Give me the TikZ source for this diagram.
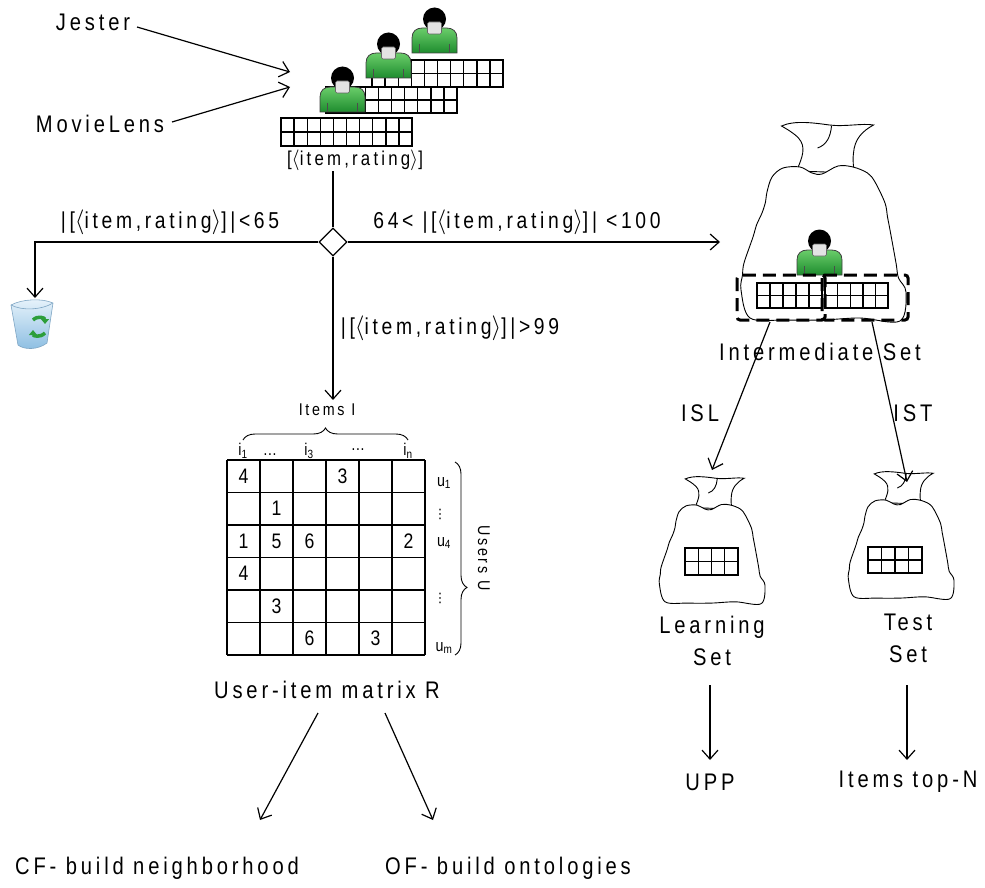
\documentclass[tikz,border=0pt]{standalone}
\usepackage{fontspec}
\setmainfont{Liberation Sans}[FakeStretch=0.84,LetterSpace=16]
\newfontfamily\dotsfont{DejaVu Sans}
\usetikzlibrary{arrows.meta,shapes.geometric,decorations.pathreplacing}

\definecolor{userlight}{HTML}{6ACD6A}
\definecolor{userdark}{HTML}{1E8C2E}
\definecolor{binlight}{HTML}{E8F3FB}
\definecolor{binblue}{HTML}{8CBEE2}
\definecolor{binedge}{HTML}{7FA6C4}
\definecolor{recyclegreen}{HTML}{2C9E3A}

\tikzset{
  lbl/.style={font=\fontsize{24}{32}\selectfont, inner sep=0pt, align=center},
  cond/.style={font=\fontsize{23}{28}\selectfont, inner sep=0pt},
  pairlbl/.style={font=\fontsize{20}{24}\selectfont, inner sep=0pt},
  tiny/.style={font=\fontsize{17}{20}\selectfont, inner sep=0pt},
  vdotlbl/.style={font=\dotsfont\fontsize{13}{14}\selectfont, inner sep=0pt},
  cellnum/.style={font=\fontsize{21}{24}\selectfont, inner sep=0pt},
  line/.style={line width=1.2pt},
  conn/.style={line width=1.2pt, -{Straight Barb[length=9pt,width=16pt,line width=1.2pt]}},
  gridline/.style={line width=1.4pt},
  matline/.style={line width=1.2pt},
  bagline/.style={line width=0.9pt},
  dashbox/.style={line width=3pt, dash pattern=on 13pt off 7pt, rounded corners=3pt},
  bracedeco/.style={line width=0.9pt, decorate},
  % person standing in front of a rating row; origin at the bottom centre
  user/.pic={
    \shade[top color=userlight, bottom color=userdark, draw=black!75, line width=0.8pt]
      (-22.5,0) -- (-22.5,-15) .. controls (-22.5,-22) and (-18,-25) .. (-12,-25)
      -- (12,-25) .. controls (18,-25) and (22.5,-22) .. (22.5,-15) -- (22.5,0) -- cycle;
    \draw[black!70, line width=0.8pt] (-15,-9) -- (-15,0) (15,-9) -- (15,0);
    \fill[black] (0,-34) circle (11.5);
    \filldraw[fill=gray!22, draw=black!60, line width=0.6pt, rounded corners=1.5pt]
      (-7,-31) rectangle (7,-19);
  },
  % tied sack; origin at the bottom centre
  bag/.pic={
    \filldraw[bagline, fill=white] (-26,-152) .. controls (-20,-166) and (-16,-176) .. (-24,-185)
      .. controls (-30,-191) and (-36,-194) .. (-41,-197)
      .. controls (-28,-203) and (-8,-200) .. (7,-198)
      .. controls (22,-196) and (40,-200) .. (51,-198)
      .. controls (40,-192) and (32,-184) .. (31,-170)
      .. controls (30,-162) and (31,-156) .. (32,-150) -- cycle;
    \filldraw[bagline, fill=white] plot[smooth cycle, tension=0.55] coordinates {
      (-72.5,-5) (-81.5,-33) (-80,-48) (-78.5,-60) (-69.5,-86) (-66,-98) (-60.5,-110)
      (-57,-121) (-55.5,-131) (-50.5,-146) (-39.5,-155) (-22.5,-156) (-10.5,-150)
      (-0.5,-149) (15.5,-157) (30.5,-156) (45,-150) (52.5,-141) (62.5,-120) (65,-106)
      (67.5,-93) (73.5,-60) (76,-45) (83.5,-31) (77.5,-2) (37.5,-5) (0,-3) (-37.5,-3)};
    \draw[bagline] (9,-197) .. controls (8,-186) and (4,-178) .. (-5,-175);
  }
}

% two-row rating grid: left, top, columns, cell width, cell height
\newcommand{\ratinggrid}[5]{%
  \filldraw[gridline, fill=white] (#1,#2) rectangle ({#1+#3*#4},{#2+2*#5});
  \draw[gridline] (#1,{#2+#5}) -- ({#1+#3*#4},{#2+#5});
  \pgfmathtruncatemacro{\innercols}{#3-1}
  \foreach \k in {1,...,\innercols} \draw[gridline] ({#1+\k*#4},#2) -- ({#1+\k*#4},{#2+2*#5});
}

\begin{document}
\begin{tikzpicture}[x=1pt,y=-1pt]
\useasboundingbox (0,0) rectangle (985,888);

% ---------- data sources ----------
\node[lbl] (jester) at (93,22) {Jester};
\node[lbl] (movielens) at (100,124) {MovieLens};
\coordinate (jout) at (137,27);
\coordinate (mout) at (172,122);
\coordinate (stackin1) at (290,72);
\coordinate (stackin2) at (290,87);
\draw[conn] (jout) -- (stackin1);
\draw[conn] (mout) -- (stackin2);

% ---------- stacked user profiles ----------
\ratinggrid{372}{60}{10}{13.1}{13.5}
\pic at (388.5,78) {user};
\pic at (434.5,53) {user};
\ratinggrid{326}{87}{10}{13.1}{13}
\pic at (342.5,112) {user};
\ratinggrid{281}{118}{10}{13.1}{14}
\node[pairlbl] (pairs) at (355,160) {[$\langle$item,rating$\rangle$]};

% ---------- split on profile size ----------
\node[diamond, draw, line width=1.2pt, fill=white, minimum width=28pt, minimum height=28pt, inner sep=0pt] (split) at (333,242) {};
\coordinate (stemtop) at (333,171);
\coordinate (binin) at (35,298);
\coordinate (bagin) at (720,242);
\coordinate (matin) at (333,400);
\draw[line] (stemtop) -- (split.north);
\draw[conn] (split.west) -| (binin);
\draw[conn] (split.east) -- (bagin);
\draw[conn] (split.south) -- (matin);

\node[cond] (small) at (170,222) {|[$\langle$item,rating$\rangle$]|<65};
\node[cond] (medium) at (517,222) {64< |[$\langle$item,rating$\rangle$]| <100};
\node[cond] (large) at (450,328) {|[$\langle$item,rating$\rangle$]|>99};

% ---------- recycle bin ----------
\shade[top color=binlight, bottom color=binblue, draw=binedge, line width=0.6pt]
  (11,305) .. controls (22,299) and (42,298) .. (53,303) -- (47,343)
  .. controls (38,350) and (24,350) .. (18,345) -- cycle;
\draw[binedge, line width=0.6pt] (11,305) .. controls (22,311) and (42,310) .. (53,303);
\draw[recyclegreen, line width=3.5pt, -{Triangle[length=5pt,width=8pt]}]
  (33,320) .. controls (38,315) and (45,318) .. (45,324);
\draw[recyclegreen, line width=3.5pt, -{Triangle[length=5pt,width=8pt]}]
  (45,333) .. controls (40,338) and (33,336) .. (33,330);

% ---------- user-item matrix ----------
\node[tiny] (itemsI) at (327,410) {Items I};
\draw[bracedeco, decoration={brace, amplitude=12pt}] (243,440) -- (408,440);
\node[tiny] (c1) at (243,451) {i\textsubscript{1}};
\node[tiny] (c2) at (270,455) {…};
\node[tiny] (c3) at (309,451) {i\textsubscript{3}};
\node[tiny] (c4) at (358,450) {…};
\node[tiny] (c5) at (408,451) {i\textsubscript{n}};

\foreach \c in {0,...,6} \draw[matline] ({227+33*\c},460) -- ({227+33*\c},655);
\foreach \r in {0,...,6} \draw[matline] (227,{460+32.5*\r}) -- (425,{460+32.5*\r});
\foreach \r/\c/\v in {1/1/4, 1/4/3, 2/2/1, 3/1/1, 3/2/5, 3/3/6, 3/6/2, 4/1/4, 5/2/3, 6/3/6, 6/5/3}
  \node[cellnum] (m\r\c) at ({227+33*(\c-0.5)},{460+32.5*(\r-0.5)}) {\v};

\node[tiny] (u1) at (444,483) {u\textsubscript{1}};
\node[vdotlbl] (u2) at (440,514) {⋮};
\node[tiny] (u4) at (444,543) {u\textsubscript{4}};
\node[vdotlbl] (u5) at (440,598) {⋮};
\node[tiny] (um) at (444,648) {u\textsubscript{m}};
\draw[bracedeco, decoration={brace, amplitude=12pt, aspect=0.65}] (455,462) -- (455,655);
\node[tiny, rotate=-90] (usersU) at (484,558) {Users U};

\node[lbl] (matlabel) at (327,690) {User-item matrix R};
\coordinate (cfout) at (318,713);
\coordinate (ofout) at (385,713);
\coordinate (cfin) at (260,820);
\coordinate (ofin) at (433,820);
\draw[conn] (cfout) -- (cfin);
\draw[conn] (ofout) -- (ofin);
\node[lbl] (cf) at (157,868) {CF- build neighborhood};
\node[lbl] (of) at (508,868) {OF- build ontologies};

% ---------- intermediate set ----------
\pic at (822.5,323) {bag};
\pic at (819.5,275) {user};
\ratinggrid{757}{283}{5}{13}{12.5}
\ratinggrid{825}{283}{5}{12.6}{12.5}
\draw[dashbox] (737,275) rectangle (825,320);
\draw[dashbox] (822,275) rectangle (908,320);
\node[lbl] (interset) at (820,352) {Intermediate Set};

% ---------- learning and test sets ----------
\pic[scale=0.64] at (711.5,605) {bag};
\ratinggrid{685}{548}{4}{13.25}{13.5}
\pic[scale=0.64] at (900.5,600) {bag};
\ratinggrid{868}{547}{4}{13.5}{13}

\coordinate (islout) at (770,322);
\coordinate (istout) at (872,322);
\coordinate (islin) at (712,470);
\coordinate (istin) at (907,482);
\draw[conn] (islout) -- (islin);
\draw[conn] (istout) -- (istin);
\node[lbl] (isl) at (700,413) {ISL};
\node[lbl] (ist) at (913,413) {IST};

\node[lbl] (learnset) at (712,641) {Learning\\Set};
\node[lbl] (testset) at (908,638) {Test\\Set};

\coordinate (lout) at (710,685);
\coordinate (tout) at (907,685);
\coordinate (lin) at (710,760);
\coordinate (tin) at (907,760);
\draw[conn] (lout) -- (lin);
\draw[conn] (tout) -- (tin);
\node[lbl] (upp) at (710,782) {UPP};
\node[lbl] (topn) at (908,782) {Items top-N};
\end{tikzpicture}
\end{document}
